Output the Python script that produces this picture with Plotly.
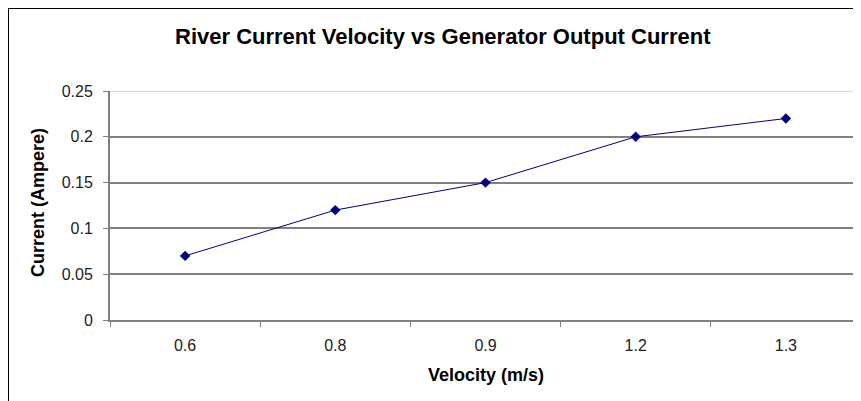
import plotly.graph_objects as go

velocity = ["0.6", "0.8", "0.9", "1.2", "1.3"]
current = [0.07, 0.12, 0.15, 0.20, 0.22]
y_ticks = [0, 0.05, 0.1, 0.15, 0.2, 0.25]
y_tick_text = ["0", "0.05", "0.1", "0.15", "0.2", "0.25"]

# page offset caused by the default body margin of the html page
OFF = 8
W, H = 861, 401
# plot area in page pixels: x 110..861, y 91..320
L = 110 - OFF
T = 91 - OFF
R = W - (861 - OFF)
B = H - (320 - OFF)
pw, ph = W - L - R, H - T - B

def px_x(x):
    return (x - OFF - L) / pw

def px_y(y):
    return (H - B - (y - OFF)) / ph

fig = go.Figure()
fig.add_trace(go.Scatter(
    x=velocity, y=current, mode="lines+markers",
    line=dict(color="#000080", width=1),
    marker=dict(symbol="diamond", size=8, color="#000080"),
    showlegend=False,
))

fig.update_layout(
    width=W, height=H,
    margin=dict(l=L, r=R, t=T, b=B),
    paper_bgcolor="white", plot_bgcolor="white",
    font=dict(family="Liberation Sans, Arial, sans-serif", color="black", size=16),
    xaxis=dict(
        type="category", range=[-0.5, 4.5],
        showline=True, linecolor="#808080", linewidth=2,
        ticks="outside", tickson="boundaries", ticklen=5, tickcolor="#808080", tickwidth=1,
        showgrid=False, zeroline=False,
        tickfont=dict(size=16, color="#222"),
        ticklabelstandoff=10,
    ),
    yaxis=dict(
        range=[0, 0.25], tickvals=y_ticks, ticktext=y_tick_text,
        showline=True, linecolor="#808080", linewidth=2,
        ticks="outside", ticklen=5, tickcolor="#808080", tickwidth=1,
        showgrid=True, gridcolor="#808080", gridwidth=1.5,
        zeroline=False,
        tickfont=dict(size=16, color="#222"),
        ticklabelstandoff=7,
    ),
    shapes=[
        dict(type="line", xref="paper", yref="y", x0=0, x1=1, y0=0.25, y1=0.25,
             line=dict(color="#d8d8d8", width=2), layer="above"),
        dict(type="rect", xref="paper", yref="paper",
             x0=px_x(8), x1=px_x(W + 40), y0=px_y(H + 40), y1=px_y(8),
             line=dict(color="black", width=2), fillcolor="rgba(0,0,0,0)", layer="above"),
    ],
    annotations=[
        dict(text="<b>River Current Velocity vs Generator Output Current</b>",
             xref="paper", yref="paper", x=px_x(443), y=px_y(37),
             xanchor="center", yanchor="middle", showarrow=False,
             font=dict(size=22, color="black")),
        dict(text="<b>Velocity (m/s)</b>",
             xref="paper", yref="paper", x=px_x(486), y=px_y(375),
             xanchor="center", yanchor="middle", showarrow=False,
             font=dict(size=18, color="black")),
        dict(text="<b>Current (Ampere)</b>", textangle=-90,
             xref="paper", yref="paper", x=px_x(38), y=px_y(203),
             xanchor="center", yanchor="middle", showarrow=False,
             font=dict(size=18, color="black")),
    ],
)

fig.write_html("out.html")
